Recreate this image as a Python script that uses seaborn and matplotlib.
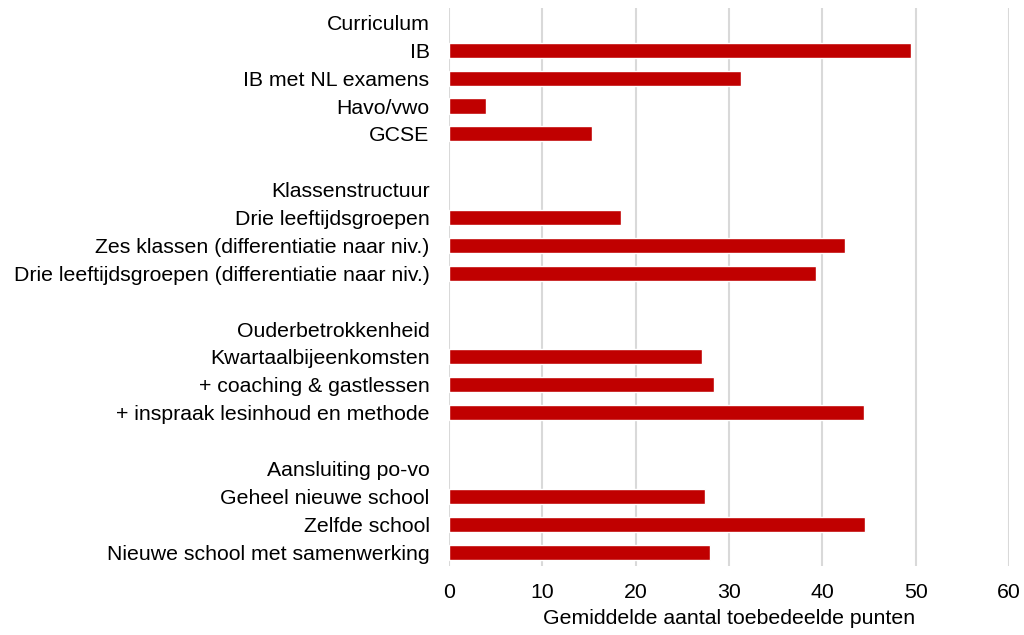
import matplotlib
matplotlib.use("Agg")
import matplotlib.pyplot as plt
import seaborn as sns
import pandas as pd
import numpy as np

# rows top to bottom; group headers have no value, blank spacer rows too
labels = [
    "Curriculum", "IB", "IB met NL examens", "Havo/vwo", "GCSE", " ",
    "Klassenstructuur", "Drie leeftijdsgroepen",
    "Zes klassen (differentiatie naar niv.)",
    "Drie leeftijdsgroepen (differentiatie naar niv.)", "  ",
    "Ouderbetrokkenheid", "Kwartaalbijeenkomsten", "+ coaching & gastlessen",
    "+ inspraak lesinhoud en methode", "   ",
    "Aansluiting po-vo", "Geheel nieuwe school", "Zelfde school",
    "Nieuwe school met samenwerking",
]
values = [
    np.nan, 49.5, 31.3, 4.0, 15.3, np.nan,
    np.nan, 18.4, 42.4, 39.3, np.nan,
    np.nan, 27.1, 28.4, 44.5, np.nan,
    np.nan, 27.4, 44.6, 28.0,
]
xticks = [0, 10, 20, 30, 40, 50, 60]

df = pd.DataFrame({"label": labels, "punten": values})

sns.set_theme(style="white")
plt.rcParams["font.family"] = ["Liberation Sans", "DejaVu Sans"]

fs = 15.3
fig = plt.figure(figsize=(10.24, 6.35), dpi=100)
ax = fig.add_axes([0.4385, 0.1087, 0.547, 0.878])

sns.barplot(data=df, x="punten", y="label", order=labels, orient="h",
            color="#C00000", saturation=1, width=0.54, ax=ax)

ax.set_xlim(0, 60)
ax.set_ylim(len(labels) - 0.5, -0.5)
ax.set_xticks(xticks)
ax.set_xticklabels([str(t) for t in xticks], fontsize=fs, color="black")
ax.tick_params(axis="y", labelsize=fs, labelcolor="black", length=0, pad=14)
ax.tick_params(axis="x", length=0, pad=12)
ax.xaxis.grid(True, color="#d9d9d9", linewidth=1.5)
ax.set_axisbelow(True)
for s in ax.spines.values():
    s.set_visible(False)
ax.set_ylabel("")
ax.set_xlabel("Gemiddelde aantal toebedeelde punten", fontsize=fs,
              color="black", labelpad=5)

fig.savefig("out.png", dpi=100)
